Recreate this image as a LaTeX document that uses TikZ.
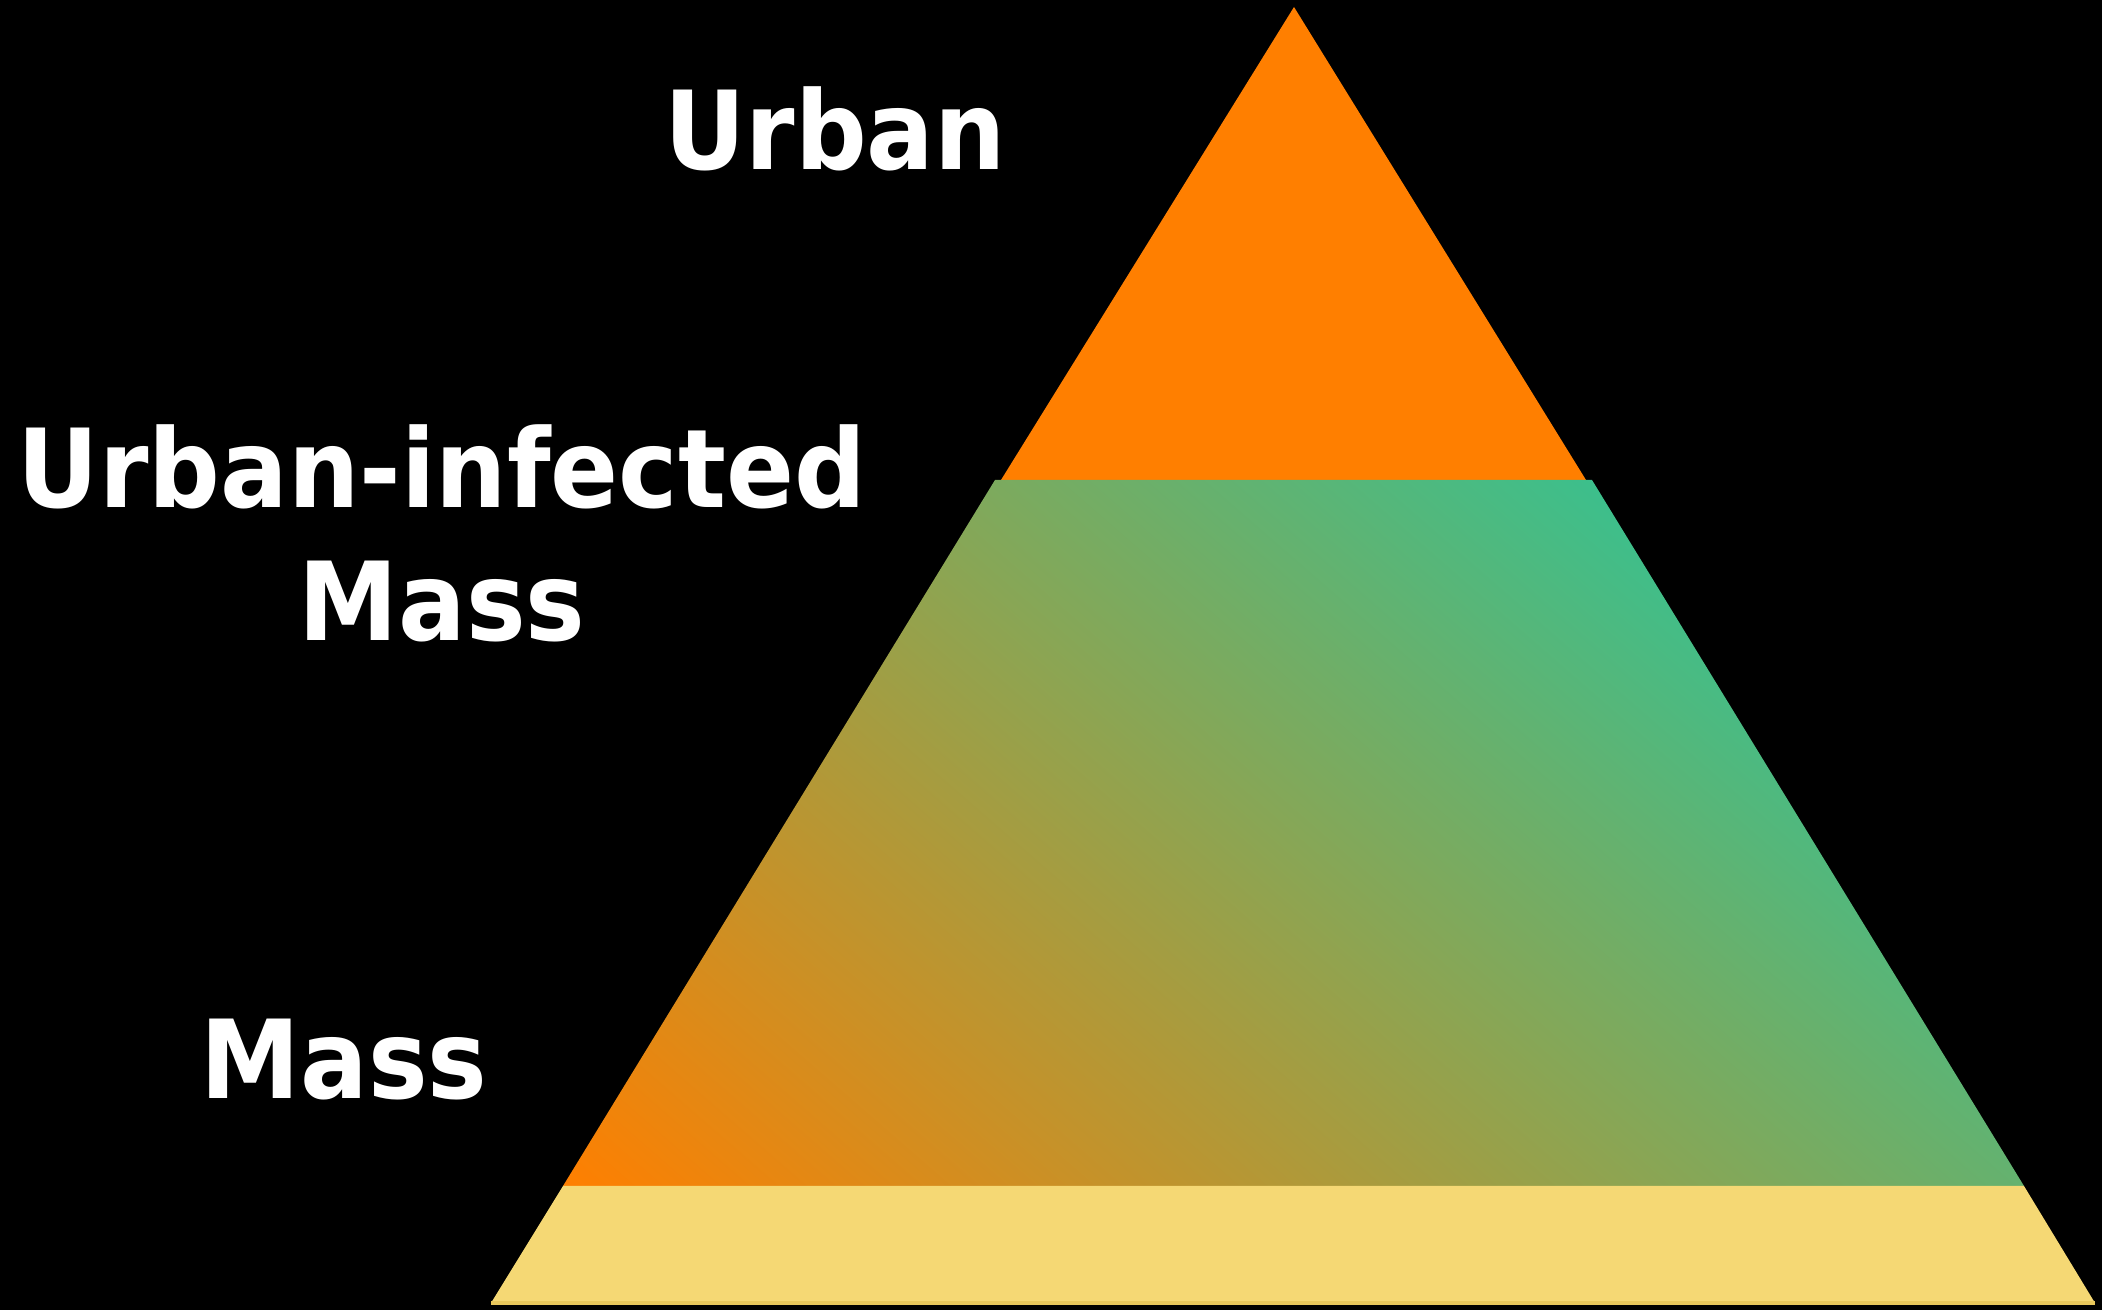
\documentclass[tikz,border=0pt]{standalone}
\usepackage{fontspec}
\setmainfont{DejaVu Sans}[FakeStretch=0.92]

\definecolor{tiporange}{HTML}{FF7F00}
\definecolor{midgreen}{HTML}{3CBF8C}
\definecolor{basesand}{HTML}{F5D874}
\definecolor{baseedge}{HTML}{E8C75C}

\tikzset{
  lvl/.style={text=white, font=\bfseries\fontsize{31}{38}\selectfont, anchor=base, inner sep=0pt},
}

\begin{document}
\begin{tikzpicture}[x=0.01cm,y=-0.01cm]
\fill[black] (0,0) rectangle (2102,1310);
\useasboundingbox (0,0) rectangle (2102,1310);

% pyramid corners
\coordinate (apex) at (1294,7);
\coordinate (tl) at (1001,480);
\coordinate (tr) at (1586,480);
\coordinate (gtl) at (995,480);
\coordinate (gtr) at (1592,480);
\coordinate (ml) at (563,1186);
\coordinate (mr) at (2024,1186);
\coordinate (bl) at (491,1303);
\coordinate (br) at (2095,1303);
\coordinate (mid) at (1293,833);

% top
\fill[tiporange] (apex) -- (tr) -- (tl) -- cycle;

% middle, orange lower left to green upper right
\begin{scope}
\clip (gtl) -- (gtr) -- (mr) -- (ml) -- cycle;
\begin{scope}[transform canvas={rotate around={49:(mid)}}]
\shade[left color=tiporange, right color=midgreen] (548,-100) rectangle (1756,1766);
\end{scope}
\end{scope}

% bottom
\fill[basesand] (ml) -- (mr) -- (br) -- (bl) -- cycle;
\draw[baseedge, line width=1.2pt] (bl) -- (br);

\node[lvl] (urban) at (835,170) {Urban};
\node[lvl, align=center] (infected) at (442,641) {Urban-infected\\Mass};
\node[lvl] (mass) at (344,1099) {Mass};
\end{tikzpicture}
\end{document}
